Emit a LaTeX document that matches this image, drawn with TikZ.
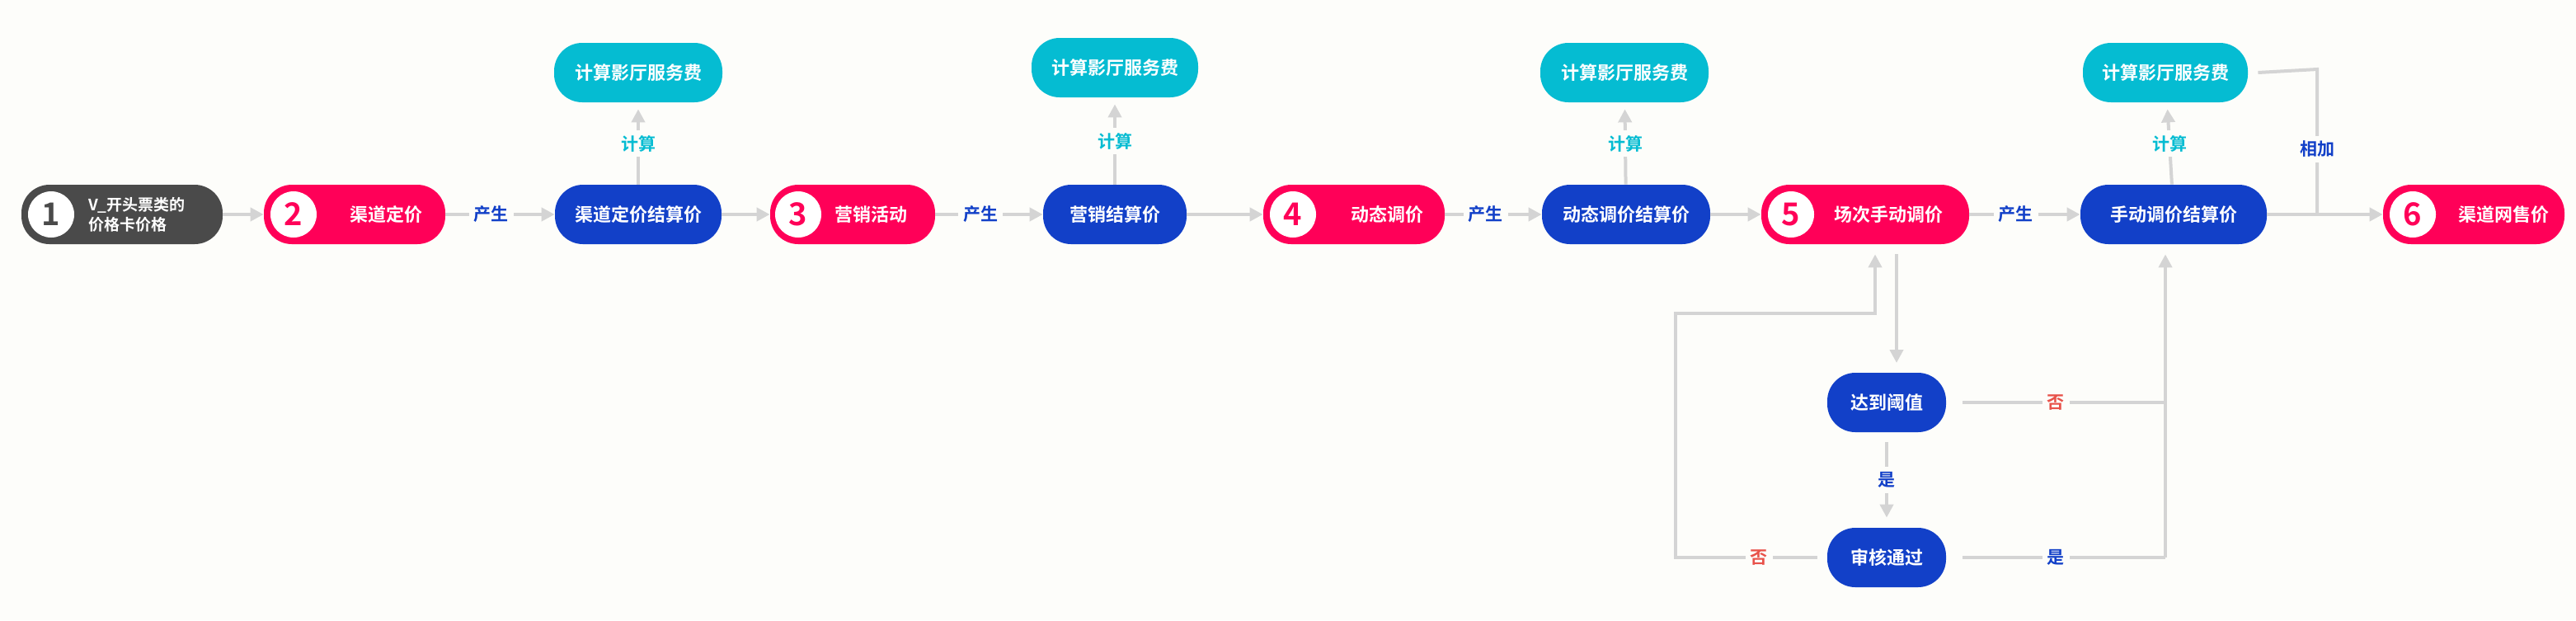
\documentclass[tikz,border=0pt]{standalone}
\usepackage{fontspec}
\setmainfont{Noto Sans CJK SC Bold}
\usetikzlibrary{arrows.meta}
\definecolor{bgc}{HTML}{FDFDFA}
\definecolor{pinkc}{HTML}{FF0058}
\definecolor{bluec}{HTML}{1240C8}
\definecolor{tealc}{HTML}{05BCD2}
\definecolor{darkc}{HTML}{4A4A4A}
\definecolor{linec}{HTML}{D4D4D4}
\definecolor{noc}{HTML}{E8524A}
\tikzset{
  pill/.style={rounded corners=17pt, minimum height=36pt, inner sep=0pt, text=white, font=\fontsize{11}{13}\selectfont},
  numc/.style={circle, fill=white, minimum size=28pt, inner sep=0pt, font=\fontsize{19}{20}\selectfont},
  flow/.style={draw=linec, line width=2pt, -{Triangle[length=8pt,width=8pt]}},
  plain/.style={draw=linec, line width=2pt},
  lbl/.style={fill=bgc, inner sep=3pt, text=bluec, font=\fontsize{10.5}{12}\selectfont},
}
\begin{document}
\begin{tikzpicture}[x=1pt,y=-1pt]
  \fill[bgc] (0,0) rectangle (1562,376);
  \useasboundingbox (0,0) rectangle (1562,376);

  % main row
  \node[pill, fill=darkc, minimum width=122pt] (n1) at (74,130) {};
  \node[numc, text=darkc] (c1) at (31,130) {1};
  \node[text=white, align=left, font=\fontsize{9.5}{12}\selectfont, anchor=west] (t1) at (50,130) {V\_开头票类的\\价格卡价格};

  \node[pill, fill=pinkc, minimum width=110pt] (n2) at (215,130) {};
  \node[numc, text=pinkc] (c2) at (178,130) {2};
  \node[text=white, font=\fontsize{11}{13}\selectfont] (t2) at (234,130) {渠道定价};

  \node[pill, fill=bluec, minimum width=101pt] (s2) at (387,130) {渠道定价结算价};
  \node[pill, fill=tealc, minimum width=102pt] (f2) at (387,44) {计算影厅服务费};

  \node[pill, fill=pinkc, minimum width=100pt] (n3) at (517,130) {};
  \node[numc, text=pinkc] (c3) at (484,130) {3};
  \node[text=white, font=\fontsize{11}{13}\selectfont] (t3) at (528,130) {营销活动};

  \node[pill, fill=bluec, minimum width=87pt] (s3) at (676,130) {营销结算价};
  \node[pill, fill=tealc, minimum width=101pt] (f3) at (676,41) {计算影厅服务费};

  \node[pill, fill=pinkc, minimum width=110pt] (n4) at (821,130) {};
  \node[numc, text=pinkc] (c4) at (784,130) {4};
  \node[text=white, font=\fontsize{11}{13}\selectfont] (t4) at (841,130) {动态调价};

  \node[pill, fill=bluec, minimum width=102pt] (s4) at (986,130) {动态调价结算价};
  \node[pill, fill=tealc, minimum width=102pt] (f4) at (985,44) {计算影厅服务费};

  \node[pill, fill=pinkc, minimum width=126pt] (n5) at (1131,130) {};
  \node[numc, text=pinkc] (c5) at (1086,130) {5};
  \node[text=white, font=\fontsize{11}{13}\selectfont] (t5) at (1145,130) {场次手动调价};

  \node[pill, fill=bluec, minimum width=113pt] (s5) at (1318,130) {手动调价结算价};
  \node[pill, fill=tealc, minimum width=100pt] (f5) at (1313,44) {计算影厅服务费};

  \node[pill, fill=pinkc, minimum width=110pt] (n6) at (1500,130) {};
  \node[numc, text=pinkc] (c6) at (1463,130) {6};
  \node[text=white, font=\fontsize{11}{13}\selectfont] (t6) at (1518,130) {渠道网售价};

  % branch
  \node[pill, fill=bluec, minimum width=72pt] (ck) at (1144,244) {达到阈值};
  \node[pill, fill=bluec, minimum width=72pt] (ok) at (1144,338) {审核通过};

  % connectors
  \draw[flow] (n1) -- (n2);
  \draw[flow] (n2) -- (s2) node[lbl, pos=0.42] {产生};
  \draw[flow] (s2) -- (n3);
  \draw[flow] (n3) -- (s3) node[lbl, pos=0.42] {产生};
  \draw[flow] (s3) -- (n4);
  \draw[flow] (n4) -- (s4) node[lbl, pos=0.42] {产生};
  \draw[flow] (s4) -- (n5);
  \draw[flow] (n5) -- (s5) node[lbl, pos=0.42] {产生};
  \draw[flow] (s5) -- (n6);
  \foreach \i in {2,3,4,5}
    \draw[flow, shorten >=4pt] (s\i) -- (f\i) node[lbl, text=tealc, midway] {计算};
  \coordinate (j1) at (1405,42);
  \coordinate (j2) at (1405,130);
  \draw[plain] ([xshift=6pt]f5.east) -- (j1) -- (j2) node[lbl, pos=0.55] {相加};

  \coordinate (d1) at (1150,148);
  \coordinate (d2) at (1150,226);
  \draw[flow, shorten <=6pt, shorten >=6pt] (d1) -- (d2);
  \draw[flow, shorten <=6pt, shorten >=6pt] (ck) -- (ok) node[lbl, midway] {是};
  \coordinate (r1) at (1313,244);
  \coordinate (r2) at (1313,338);
  \draw[plain, shorten <=10pt] (ck.east) -- (r1) node[lbl, text=noc, pos=0.5] {否};
  \draw[plain, shorten <=10pt] (ok.east) -- (r2) node[lbl, pos=0.5] {是};
  \draw[flow, shorten >=6pt] (r2) -- (s5.south -| r2);
  \coordinate (l1) at (1016,338);
  \coordinate (l2) at (1016,190);
  \coordinate (l3) at (1137,190);
  \draw[flow, shorten <=6pt, shorten >=6pt] (ok.west) -- (l1) node[lbl, text=noc, pos=0.45] {否} -- (l2) -- (l3) -- (n5.south -| l3);
\end{tikzpicture}
\end{document}
